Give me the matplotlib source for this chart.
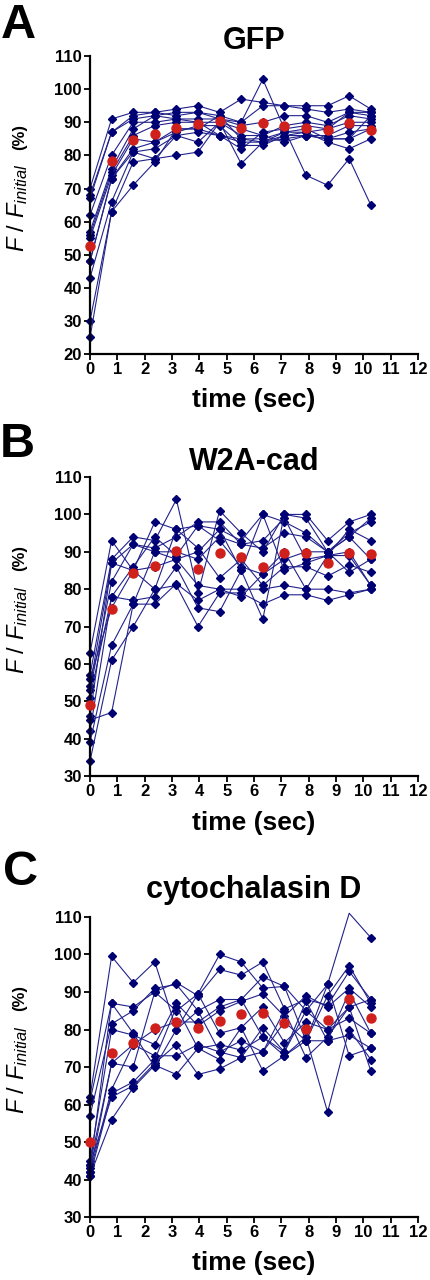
import matplotlib
matplotlib.use("Agg")
import matplotlib.pyplot as plt
import numpy as np

plt.rcParams['font.family'] = ['Liberation Sans', 'DejaVu Sans']
plt.rcParams['mathtext.fontset'] = 'custom'
plt.rcParams['mathtext.it'] = 'Liberation Sans:italic'
plt.rcParams['mathtext.rm'] = 'Liberation Sans'

# time points (sec)
time = [0.0, 0.79, 1.58, 2.37, 3.16, 3.95, 4.74, 5.53, 6.32, 7.11, 7.90, 8.69, 9.48, 10.27]

# ---- Panel A: GFP ----
gfp_traces = [
    [70, 91, 93, 93, 94, 95, 93, 97, 96, 95, 95, 95, 98, 94],
    [68, 87, 92, 93, 92, 93, 92, 90, 103, 88, 74, 71, 79, 65],
    [67, 87, 91, 92, 93, 93, 91, 90, 95, 95, 94, 93, 94, 93],
    [62, 80, 90, 90, 91, 91, 91, 89, 90, 92, 92, 90, 93, 92],
    [57, 76, 88, 92, 91, 90, 90, 86, 86, 89, 90, 89, 92, 91],
    [56, 75, 86, 89, 90, 90, 86, 82, 87, 88, 89, 88, 90, 90],
    [55, 74, 85, 84, 88, 88, 92, 85, 85, 87, 87, 88, 93, 93],
    [48, 73, 82, 84, 87, 89, 89, 83, 83, 86, 86, 86, 89, 89],
    [48, 73, 81, 82, 86, 84, 90, 77.5, 84, 85, 86, 85, 87, 88],
    [43, 66, 81, 79, 86, 87, 86, 84, 84, 86, 87, 84, 82, 85],
    [30, 63, 78, 79, 80, 81, 90, 88, 86, 84, 86, 85, 85, 92],
    [25, 63, 71, 78, 88, 88, 86, 85, 84, 87, 88, 85, 85, 88],
]
gfp_mean = [52.7, 78.2, 84.6, 86.4, 88.2, 89.5, 90.3, 88.3, 89.7, 89.0, 88.3, 87.7, 89.7, 87.7]

# ---- Panel B: W2A-cad ----
w2a_traces = [
    [63, 93, 85, 98, 96, 97, 96, 93, 100, 98, 95, 90, 95, 98],
    [57, 88, 94, 93, 104, 79, 101, 95, 90, 100, 100, 93, 98, 100],
    [54, 87, 92, 91, 94, 98, 98, 92, 93, 99, 88, 89, 96, 93],
    [53, 82, 92, 90, 90, 88, 94, 92, 91, 95, 94, 90, 94, 88],
    [51, 78, 86, 94, 89, 97, 93, 86, 84, 88, 90, 90, 94, 99],
    [46, 87, 85, 80, 96, 91, 83, 88, 81, 86, 86, 83.5, 86.5, 84.5],
    [42, 78, 77, 78, 86, 75, 74, 85, 100, 85, 87, 89, 90, 81],
    [39, 65, 76, 76, 81.5, 77, 80, 80, 80, 81, 80, 80, 79, 80],
    [34, 61, 70, 80, 81, 70, 79, 79, 76, 78.5, 78.5, 77, 78.5, 80],
    [45, 47, 76, 90, 88, 90, 96, 85, 72, 100, 99, 90, 84.5, 88],
    [56, 75, 85, 86, 88, 81, 80, 78, 84, 90, 80, 89, 89, 81],
]
w2a_mean = [48.9, 74.8, 84.4, 86.3, 90.2, 85.4, 89.6, 88.7, 85.9, 89.8, 89.8, 87.1, 89.8, 89.3]

# ---- Panel C: cytochalasin D ----
cyto_traces = [
    [62, 99.5, 92.5, 98, 80, 89.5, 100, 98, 91, 91.5, 85, 92, 111, 104.5],
    [61, 87, 86, 90, 92.5, 89, 96, 94.5, 98, 85.5, 88, 86.5, 95.5, 88],
    [57, 81.5, 85, 91, 92, 85, 88, 88, 94, 91.5, 77, 89, 97, 87],
    [45, 80, 78.5, 76, 87, 81, 85, 87.5, 89.5, 83.5, 89, 86, 91, 86],
    [44, 71, 70, 90, 85, 89.5, 79, 80.5, 86, 76.5, 82, 80, 83, 79],
    [42, 64, 76, 73, 73, 76, 74, 72.5, 80.5, 74, 87.5, 77, 78.5, 75],
    [41, 63, 66, 72, 86, 75, 76, 74.5, 78, 73, 78, 58, 80, 72],
    [44, 62, 65, 71, 76, 68, 69.5, 72.5, 74, 85, 72.5, 78, 86, 69],
    [41, 56, 64.5, 70.5, 68, 75, 72, 80.5, 69, 73, 77, 92, 73, 75],
    [42, 71, 76, 80, 82, 82, 86, 88, 78, 74, 85, 80, 86, 88],
    [43, 87, 79, 70, 80, 85, 74, 77, 74, 82, 77, 77, 90, 79],
]
cyto_mean = [50.0, 73.7, 76.5, 80.3, 82.0, 80.5, 82.3, 84.1, 84.3, 81.8, 80.1, 82.5, 88.1, 83.0]

H = 1280.0
panels = [
    # letter, title, traces, mean, ymin, axes rect, title pad, letter baseline px, letter x px
    ("A", "GFP", gfp_traces, gfp_mean, 20, [0.2093, 0.7234, 0.7630, 0.2328], 2.5, 38, 1),
    ("B", "W2A-cad", w2a_traces, w2a_mean, 30, [0.2093, 0.3937, 0.7630, 0.2336], 2.0, 457, 0),
    ("C", "cytochalasin D", cyto_traces, cyto_mean, 30, [0.2093, 0.0492, 0.7630, 0.2344], 14, 885, 3),
]

line_col = "#22228c"
mark_col = "#000075"
red_col = "#d0201c"

fig = plt.figure(figsize=(4.3, 12.8), dpi=100)

for letter, title, traces, mean, ymin, pos, tpad, lby, lbx in panels:
    ax = fig.add_axes(pos)
    for tr in traces:
        idx = [i for i, v in enumerate(tr) if v <= 110]
        ax.plot(time, tr, color=line_col, lw=0.8, marker="D", ms=3.8,
                mfc=mark_col, mec=mark_col, markevery=idx, clip_on=False, zorder=2)
    ax.plot(time, mean, linestyle="none", marker="o", ms=6.5, color=red_col,
            mec=red_col, clip_on=False, zorder=3)
    ax.set_xlim(0, 12)
    ax.set_ylim(ymin, 110)
    ax.set_xticks(range(0, 13))
    ax.set_yticks(range(ymin, 111, 10))
    for s in ("top", "right"):
        ax.spines[s].set_visible(False)
    for s in ("left", "bottom"):
        ax.spines[s].set_linewidth(1.6)
    ax.tick_params(direction="out", length=4, width=1.3, labelsize=12, pad=2)
    for lab in ax.get_xticklabels() + ax.get_yticklabels():
        lab.set_fontweight("bold")
    ax.set_title(title, fontsize=22, fontweight="bold", pad=tpad)
    ax.set_xlabel("time (sec)", fontsize=19, fontweight="bold", labelpad=8)
    ax.text(-0.22, 0.49, r"$F$ / $F_{initial}$", transform=ax.transAxes,
            rotation=90, fontsize=17, ha="center", va="center")
    ax.text(-0.215, 0.73, "(%)", transform=ax.transAxes,
            rotation=90, fontsize=12, fontweight="bold", ha="center", va="center")
    # panel letter
    fig.text(lbx / 430.0, 1 - lby / H, letter, fontsize=35,
             fontweight="bold", ha="left", va="baseline")

fig.savefig("out.png", dpi=100)
